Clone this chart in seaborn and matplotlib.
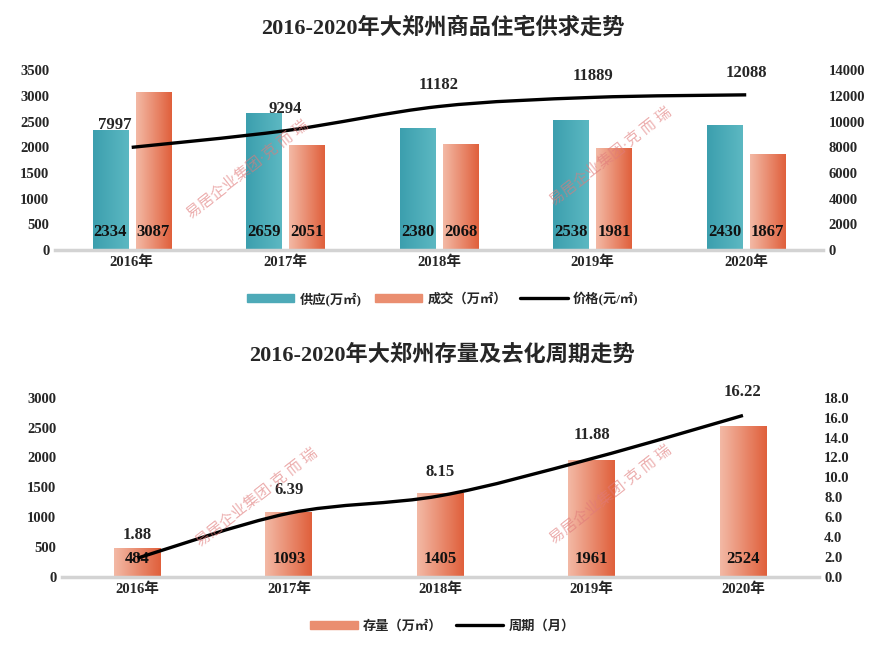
import numpy as np
import pandas as pd
import matplotlib
matplotlib.use('Agg')
import matplotlib.pyplot as plt
from matplotlib.path import Path
from matplotlib.patches import PathPatch, Patch
from matplotlib.lines import Line2D
from matplotlib.colors import LinearSegmentedColormap
import seaborn as sns

# data
years = ['2016年', '2017年', '2018年', '2019年', '2020年']
supply = [2334, 2659, 2380, 2538, 2430]
deal = [3087, 2051, 2068, 1981, 1867]
price = [7997, 9294, 11182, 11889, 12088]
stock = [484, 1093, 1405, 1961, 2524]
cycle = [1.88, 6.39, 8.15, 11.88, 16.22]

sns.set_theme(style='white')
FONT = ['Liberation Serif', 'Noto Sans CJK SC', 'DejaVu Sans']
plt.rcParams['font.family'] = FONT
plt.rcParams['font.weight'] = 'bold'

TEAL = ['#3c9fae', '#5cb8c2']
ORANGE = ['#f3b9a5', '#e0603c']

fig = plt.figure(figsize=(8.85, 6.51), dpi=100)
ax1 = fig.add_axes([0.062, 0.616, 0.868, 0.276])
ax3 = fig.add_axes([0.070, 0.114, 0.855, 0.275])


def smooth_path(ax, xs, ys, **kw):
    # Catmull-Rom through the data points, drawn as cubic beziers
    pts = np.column_stack([xs, ys]).astype(float)
    ext = np.vstack([pts[0], pts, pts[-1]])
    verts = [pts[0]]
    codes = [Path.MOVETO]
    for i in range(len(pts) - 1):
        p0, p1, p2, p3 = ext[i], ext[i + 1], ext[i + 2], ext[i + 3]
        verts += [p1 + (p2 - p0) / 6, p2 - (p3 - p1) / 6, p2]
        codes += [Path.CURVE4] * 3
    ax.add_patch(PathPatch(Path(verts, codes), fill=False, transform=ax.transData, **kw))


def gradient_bars(ax, patches, colors):
    cmap = LinearSegmentedColormap.from_list('g', colors)
    xl, yl = ax.get_xlim(), ax.get_ylim()
    for p in patches:
        x0, y0 = p.get_x(), p.get_y()
        w, h = p.get_width(), p.get_height()
        im = ax.imshow(np.linspace(0, 1, 64)[None, :], cmap=cmap, aspect='auto',
                       extent=(x0, x0 + w, y0, y0 + h), zorder=p.get_zorder() + 0.1)
        im.set_clip_path(p)
    ax.set_xlim(xl)
    ax.set_ylim(yl)


def style_axes(ax):
    for s in ['top', 'left', 'right']:
        ax.spines[s].set_visible(False)
    ax.spines['bottom'].set_color('#d3d3d3')
    ax.spines['bottom'].set_linewidth(2.5)
    ax.tick_params(length=0, labelsize=10.5, pad=4)
    ax.set_xlabel('')
    ax.set_ylabel('')


# ---- top chart: supply / deal / price
df1 = pd.DataFrame({
    'year': years * 2,
    'value': supply + deal,
    'kind': ['供应'] * 5 + ['成交'] * 5,
})
sns.barplot(data=df1, x='year', y='value', hue='kind', ax=ax1,
            palette=[TEAL[1], ORANGE[1]], width=0.56, gap=0.18,
            legend=False, saturation=1)
ax1.set_ylim(0, 3500)
ax1.set_yticks(range(0, 3501, 500))
ax1.set_xlim(-0.5, 4.5)
style_axes(ax1)
gradient_bars(ax1, ax1.patches[:5], TEAL)
gradient_bars(ax1, ax1.patches[5:10], ORANGE)
for p, v in zip(ax1.patches[:10], supply + deal):
    ax1.text(p.get_x() + p.get_width() / 2, 350, str(v), ha='center', va='center',
             fontsize=12, fontweight='bold', color='#111111', zorder=5)

ax2 = ax1.twinx()
ax2.set_ylim(0, 14000)
ax2.set_yticks(range(0, 14001, 2000))
for s in ax2.spines.values():
    s.set_visible(False)
ax2.tick_params(length=0, labelsize=10.5, pad=4)
ax2.grid(False)
smooth_path(ax2, range(5), price, color='black', lw=2.4, zorder=4)
for i, v in enumerate(price):
    dx = -12 if i == 0 else 0
    ax2.annotate(str(v), (i, v), xytext=(dx, 10), textcoords='offset points',
                 ha='center', va='bottom', fontsize=12, fontweight='bold')
ax2.set_xlim(-0.5, 4.5)

fig.text(0.5, 0.957, '2016-2020年大郑州商品住宅供求走势', ha='center', va='center',
         fontsize=16, fontweight='bold')

h1 = [Patch(color='#4eaab8'), Patch(color='#ea8e70'), Line2D([], [], color='black', lw=2.4)]
fig.legend(h1, ['供应(万㎡)', '成交（万㎡）', '价格(元/㎡)'], loc='center',
           bbox_to_anchor=(0.5, 0.541), ncol=3, frameon=False, fontsize=9.5,
           handlelength=3.6, handleheight=0.6, columnspacing=1.0, handletextpad=0.4)

# ---- bottom chart: stock / cycle
df2 = pd.DataFrame({'year': years, 'value': stock})
sns.barplot(data=df2, x='year', y='value', ax=ax3, color=ORANGE[1],
            width=0.31, saturation=1)
ax3.set_ylim(0, 3000)
ax3.set_yticks(range(0, 3001, 500))
ax3.set_xlim(-0.5, 4.5)
style_axes(ax3)
gradient_bars(ax3, ax3.patches[:5], ORANGE)
for p, v in zip(ax3.patches[:5], stock):
    ax3.text(p.get_x() + p.get_width() / 2, 290, str(v), ha='center', va='center',
             fontsize=12, fontweight='bold', color='#111111', zorder=5)

ax4 = ax3.twinx()
ax4.set_ylim(0, 18)
ax4.set_yticks(np.arange(0, 18.1, 2))
ax4.set_yticklabels([f'{t:.1f}' for t in np.arange(0, 18.1, 2)])
for s in ax4.spines.values():
    s.set_visible(False)
ax4.tick_params(length=0, labelsize=10.5, pad=4)
ax4.grid(False)
smooth_path(ax4, range(5), cycle, color='black', lw=2.4, zorder=4)
for i, v in enumerate(cycle):
    ax4.annotate(f'{v:.2f}', (i, v), xytext=(0, 11), textcoords='offset points',
                 ha='center', va='bottom', fontsize=12, fontweight='bold')
ax4.set_xlim(-0.5, 4.5)

fig.text(0.5, 0.455, '2016-2020年大郑州存量及去化周期走势', ha='center', va='center',
         fontsize=16, fontweight='bold')

h2 = [Patch(color='#ea8e70'), Line2D([], [], color='black', lw=2.4)]
fig.legend(h2, ['存量（万㎡）', '周期（月）'], loc='center',
           bbox_to_anchor=(0.5, 0.038), ncol=2, frameon=False, fontsize=9.5,
           handlelength=3.6, handleheight=0.6, columnspacing=1.0, handletextpad=0.4)

# watermarks
for x, y in [(0.28, 0.74), (0.69, 0.76), (0.29, 0.235), (0.69, 0.24)]:
    fig.text(x, y, '易居企业集团·克 而 瑞', rotation=38, ha='center', va='center',
             fontsize=11, color='#e07a7a', alpha=0.6, fontweight='normal')

fig.savefig('out.png', dpi=100)
